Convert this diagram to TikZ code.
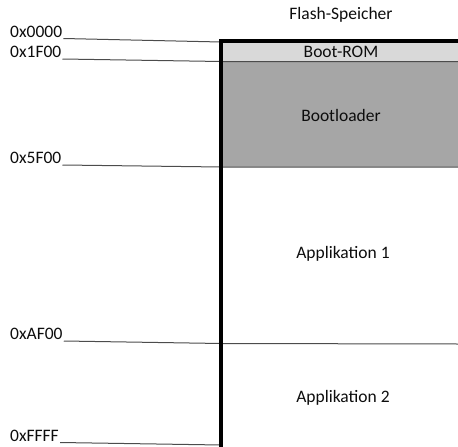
\documentclass[tikz,border=0pt]{standalone}
\usepackage{fontspec}
\setmainfont{Carlito}
\begin{document}
\begin{tikzpicture}[x=1pt, y=-1pt, line cap=butt, line join=miter,
    font=\fontsize{17.5}{19}\selectfont]
	% Define memory window (pixel grid of the original)
	\def\xmem{221} \def\xend{458}
	\tikzset{
		addr/.style={anchor=south west, inner sep=1pt, text=black!95},
		region/.style={text=black!95},
		leader/.style={draw=black!70, line width=1pt}
	}
	\useasboundingbox (0,0) rectangle (458,447);
	
	% Filled regions
	\fill[black!15] (\xmem,41) rectangle (\xend,61.5);
	\fill[black!35] (\xmem,61.5) rectangle (\xend,167);
	
	% Address labels
	\node[addr] (a0) at (9,38.5) {0x0000};
	\node[addr] (a1) at (9,59) {0x1F00};
	\node[addr] (a2) at (9,165) {0x5F00};
	\node[addr] (a3) at (9,341) {0xAF00};
	\node[addr] (a4) at (9,442.5) {0xFFFF};
	
	% Points on the memory edge
	\coordinate (m0) at (\xmem,42);
	\coordinate (m1) at (\xmem,61.5);
	\coordinate (m2) at (\xmem,167);
	\coordinate (m3) at (\xmem,343.5);
	\coordinate (m4) at (\xmem,445);
	\coordinate (e1) at (\xend,61.5);
	\coordinate (e2) at (\xend,167);
	\coordinate (e3) at (\xend,344);
	
	% Leader lines
	\draw[leader] (a0.south east) -- (m0);
	\draw[leader] (a1.south east) -- (m1) -- (e1);
	\draw[leader] (a2.south east) -- (m2) -- (e2);
	\draw[leader] (a3.south east) -- (m3) -- (e3);
	\draw[leader] (a4.south east) -- (m4);
	
	% Memory border
	\draw[line width=3.5pt] (\xend,41) -- (\xmem,41) -- (\xmem,447);
	
	% Region texts
	\node[region] (title) at (341,15) {Flash-Speicher};
	\node[region] (rom) at (341,52) {Boot-ROM};
	\node[region] (boot) at (341,115) {Bootloader};
	\node[region] (app1) at (343,254) {Applikation 1};
	\node[region] (app2) at (343,398) {Applikation 2};
	
\end{tikzpicture}
\end{document}
